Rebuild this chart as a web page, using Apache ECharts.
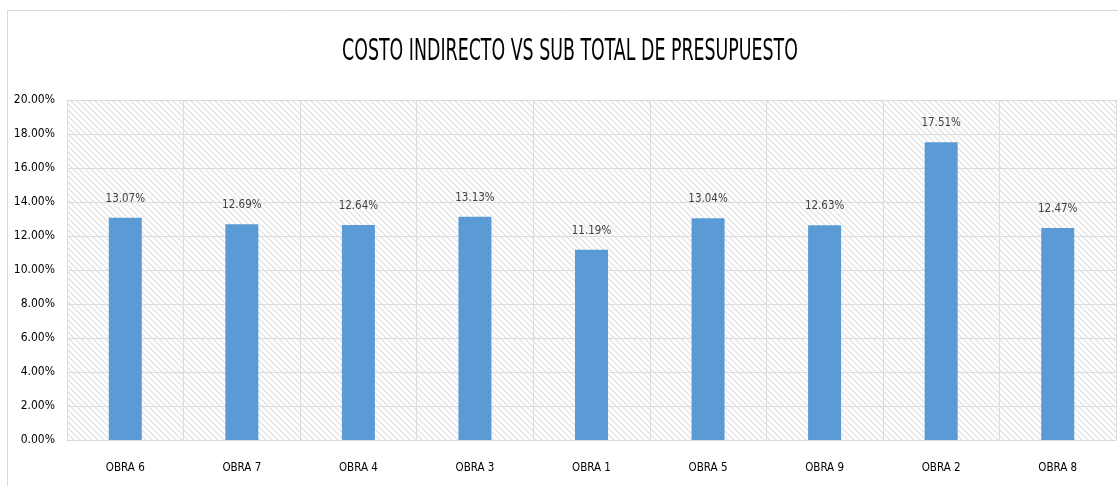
<!DOCTYPE html>
<html><head><meta charset="utf-8">
<script src="https://cdn.jsdelivr.net/npm/echarts@6/dist/echarts.min.js"></script>
<style>html,body{margin:0;padding:0;background:#fff}#c{width:1118px;height:486px}</style>
</head><body><div id="c"></div>
<script>
const categories = ['OBRA 6','OBRA 7','OBRA 4','OBRA 3','OBRA 1','OBRA 5','OBRA 9','OBRA 2','OBRA 8'];
const values = [13.07, 12.69, 12.64, 13.13, 11.19, 13.04, 12.63, 17.51, 12.47];
const yTicks = [0, 2, 4, 6, 8, 10, 12, 14, 16, 18, 20];
const titleText = 'COSTO INDIRECTO VS SUB TOTAL DE PRESUPUESTO';

const FONT = '"DejaVu Sans", sans-serif';
const STRETCH = 'condensed';

const pc = document.createElement('canvas');
pc.width = 6; pc.height = 6;
const g = pc.getContext('2d');
g.fillStyle = '#ffffff'; g.fillRect(0,0,6,6);
g.strokeStyle = '#e3e3e3'; g.lineWidth = 1.3;
g.beginPath();
g.moveTo(-1,-1); g.lineTo(7,7);
g.moveTo(-7,-1); g.lineTo(1,7);
g.moveTo(5,-1); g.lineTo(13,7);
g.stroke();

const chart = echarts.init(document.getElementById('c'));
chart.setOption({
  animation: false,
  graphic: [
    {type: 'polyline', shape: {points: [[7.5, 486], [7.5, 10.5], [1118, 10.5]]}, style: {fill: null, stroke: '#d9d9d9', lineWidth: 1}, silent: true},
    {type: 'text', x: 570, y: 52, scaleX: 0.645, scaleY: 1,
      style: {text: titleText, font: STRETCH + ' normal 30px ' + FONT, fill: '#000', align: 'center', verticalAlign: 'middle'}}
  ],
  grid: {left: 67, right: 2, top: 100, bottom: 46, show: true, borderWidth: 0,
    backgroundColor: {image: pc, repeat: 'repeat'}},
  xAxis: {type: 'category', data: categories,
    axisLine: {lineStyle: {color: '#d9d9d9', width: 1}}, axisTick: {show: false},
    splitLine: {show: true, interval: 0, lineStyle: {color: '#dcdcdc'}},
    axisLabel: {fontFamily: FONT, fontStyle: STRETCH, fontSize: 11.5, color: '#000', margin: 22}},
  yAxis: {type: 'value', min: 0, max: 20, interval: 2,
    axisLine: {show: false}, axisTick: {show: false},
    splitLine: {lineStyle: {color: '#dcdcdc'}},
    axisLabel: {fontFamily: FONT, fontStyle: STRETCH, fontSize: 12, color: '#000', margin: 12,
      formatter: v => yTicks.includes(v) ? v.toFixed(2) + '%' : ''}},
  series: [{type: 'bar', data: values, barWidth: 33,
    itemStyle: {color: '#5b9bd5'},
    label: {show: true, position: 'top', distance: 13, fontFamily: FONT, fontStyle: STRETCH, fontSize: 11.5, color: '#404040',
      formatter: p => p.value.toFixed(2) + '%'}}]
});
</script></body></html>
